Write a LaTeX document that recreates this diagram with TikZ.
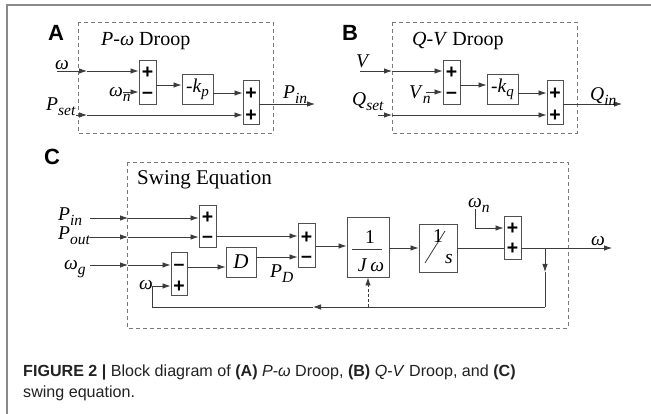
\documentclass[tikz,border=0pt]{standalone}
\usepackage{fontspec}
\setmainfont{Liberation Serif}
\newfontfamily\lsans{Liberation Sans}
\usetikzlibrary{arrows.meta}
\definecolor{linec}{HTML}{3C3C3C}
\definecolor{boxc}{HTML}{505050}
\definecolor{dashc}{HTML}{7A7A7A}
\definecolor{framec}{HTML}{8A8A8A}
\definecolor{capc}{HTML}{222222}
\newcommand\lab[2]{\textit{#1}\raisebox{-4.5pt}{\fontsize{15.5}{15.5}\selectfont\itshape #2}}
\tikzset{
  ln/.style={draw=linec, line width=0.8pt},
  arr/.style={ln, -{Latex[length=8pt,width=5.5pt]}},
  blk/.style={draw=boxc, line width=0.9pt, inner sep=0pt, fill=white},
  sumb/.style={blk, minimum width=17pt},
  sgn/.style={font=\lsans\bfseries\fontsize{19.5}{19.5}\selectfont, inner sep=0pt, text=black, yshift=-1pt},
  mns/.style={font=\lsans\bfseries\fontsize{19.5}{19.5}\selectfont, inner sep=0pt, text=black, yshift=-2.3pt},
  dbox/.style={draw=dashc, dash pattern=on 4pt off 3pt, line width=0.8pt},
  lbl/.style={font=\fontsize{19.5}{20}\selectfont, inner sep=0pt},
  ttl/.style={font=\fontsize{20}{22}\selectfont, inner sep=0pt},
  panel/.style={font=\lsans\bfseries\fontsize{22}{22}\selectfont, inner sep=0pt},
  captext/.style={font=\lsans\fontsize{16.1}{18}\selectfont, inner sep=0pt, text=capc},
}
\begin{document}
\begin{tikzpicture}[x=1pt,y=-1pt]
\useasboundingbox (0,0) rectangle (651,414);
\fill[white] (0,0) rectangle (651,414);
\draw[draw=framec, line width=1.2pt] (7,414) -- (7,5) -- (651,5);

% ---------------- Panel A ----------------
\node[panel] (pA) at (56,33) {A};
\draw[dbox] (78,22) rectangle (273,133);
\node[ttl, anchor=base west] (tA) at (101,46) {\textit{P}-\textit{ω} Droop};
\node[sumb, minimum height=44pt] (sA1) at (147.5,82) {};
\node[sgn] (sA1a) at (147.5,72) {+};
\node[mns] (sA1b) at (147.5,93) {–};
\node[blk, lbl, minimum width=31pt, minimum height=30pt] (kp) at (197.5,89) {-\textit{k}\raisebox{-4pt}{\fontsize{15}{15}\selectfont\itshape p}};
\node[sumb, minimum width=16pt, minimum height=44pt] (sA2) at (251,102) {};
\node[sgn] (sA2a) at (251,93) {+};
\node[sgn] (sA2b) at (251,115) {+};
\coordinate (wA0) at (57,71); \coordinate (wA1) at (87,71);
\draw[arr] (wA0) -- (wA1);
\draw[arr] (wA1) -- (sA1.west |- wA1);
\node[lbl, anchor=base west] (lwA) at (55,70) {\textit{ω}};
\coordinate (wnA) at (123,92);
\draw[arr] (wnA) -- (sA1.west |- wnA);
\node[lbl, anchor=base west] (lwnA) at (109,97) {\lab{ω}{n}};
\coordinate (yA85) at (0,85); \coordinate (yA93) at (0,93);
\draw[arr] (sA1.east |- yA85) -- (kp.west |- yA85);
\draw[arr] (kp.east |- yA93) -- (sA2.west |- yA93);
\coordinate (psA0) at (76,115); \coordinate (psA1) at (87,115);
\draw[arr] (psA0) -- (psA1);
\draw[arr] (psA1) -- (sA2.west |- psA1);
\node[lbl, anchor=base west] (lpsA) at (46,111) {\lab{P}{set}};
\coordinate (pinA) at (315,104);
\draw[arr] (sA2.east |- pinA) -- (pinA);
\node[lbl, anchor=base west] (lpinA) at (283,99) {\lab{P}{in}};

% ---------------- Panel B ----------------
\node[panel] (pB) at (350,33) {B};
\draw[dbox] (392,22) rectangle (577,133);
\node[ttl, anchor=base west] (tB) at (412,46) {\textit{Q}-\textit{V} Droop};
\node[sumb, minimum height=44pt] (sB1) at (451.5,82) {};
\node[sgn] (sB1a) at (451.5,72) {+};
\node[mns] (sB1b) at (451.5,93) {–};
\node[blk, lbl, minimum width=31pt, minimum height=30pt] (kq) at (502.5,89) {-\textit{k}\raisebox{-4pt}{\fontsize{15}{15}\selectfont\itshape q}};
\node[sumb, minimum width=16pt, minimum height=44pt] (sB2) at (555,102) {};
\node[sgn] (sB2a) at (555,93) {+};
\node[sgn] (sB2b) at (555,115) {+};
\coordinate (vB0) at (360,71); \coordinate (vB1) at (392,71);
\draw[arr] (vB0) -- (vB1);
\draw[arr] (vB1) -- (sB1.west |- vB1);
\node[lbl, anchor=base west] (lvB) at (356,68) {\textit{V}};
\coordinate (vnB) at (426,92);
\draw[arr] (vnB) -- (sB1.west |- vnB);
\node[lbl, anchor=base west] (lvnB) at (409,99) {\lab{V}{n}};
\coordinate (yB85) at (0,85); \coordinate (yB93) at (0,93);
\draw[arr] (sB1.east |- yB85) -- (kq.west |- yB85);
\draw[arr] (kq.east |- yB93) -- (sB2.west |- yB93);
\coordinate (qsB0) at (378,115); \coordinate (qsB1) at (392,115);
\draw[arr] (qsB0) -- (qsB1);
\draw[arr] (qsB1) -- (sB2.west |- qsB1);
\node[lbl, anchor=base west] (lqsB) at (352,106) {\lab{Q}{set}};
\coordinate (qinB) at (622,104);
\draw[arr] (sB2.east |- qinB) -- (qinB);
\node[lbl, anchor=base west] (lqinB) at (590,101) {\lab{Q}{in}};

% ---------------- Panel C ----------------
\node[panel] (pC) at (52,157) {C};
\draw[dbox] (127,162) rectangle (568,328);
\node[ttl, font=\fontsize{21}{22}\selectfont, anchor=base west] (tC) at (137,185) {Swing Equation};

\node[sumb, minimum height=42pt] (sC1) at (207.5,226) {};
\node[sgn] (sC1a) at (207.5,216.5) {+};
\node[mns] (sC1b) at (207.5,237.5) {–};
\node[sumb, minimum height=44pt] (sC2) at (306.5,245) {};
\node[sgn] (sC2a) at (306.5,237) {+};
\node[mns] (sC2b) at (306.5,257) {–};
\node[sumb, minimum width=16pt, minimum height=43pt] (sC3) at (179,273.5) {};
\node[mns] (sC3a) at (179,265) {–};
\node[sgn] (sC3b) at (179,286) {+};
\node[blk, lbl, font=\fontsize{21}{21}\selectfont\itshape, minimum width=30pt, minimum height=30pt] (D) at (241,262) {D};
\node[blk, minimum width=42pt, minimum height=60pt] (Jw) at (368,247) {};
\node[lbl] (Jw1) at (370,237) {1};
\draw[ln] (352,249) -- (382,249);
\node[lbl] (Jw2) at (371,265) {\textit{J}\,\textit{ω}};
\node[blk, minimum width=38pt, minimum height=48pt] (S) at (438,248) {};
\draw[ln] (425,263) -- (445,231);
\node[lbl] (S1) at (438,236) {1};
\node[lbl] (S2) at (449,259) {\textit{s}};
\node[sumb, minimum height=43pt] (sC4) at (512.5,237.5) {};
\node[sgn] (sC4a) at (512.5,228) {+};
\node[sgn] (sC4b) at (512.5,248) {+};

% inputs
\coordinate (pi0) at (90,218); \coordinate (pi1) at (128,218);
\draw[arr] (pi0) -- (pi1); \draw[arr] (pi1) -- (sC1.west |- pi1);
\node[lbl, anchor=base west] (lpiC) at (58,221) {\lab{P}{in}};
\coordinate (po0) at (90,237); \coordinate (po1) at (128,237);
\draw[arr] (po0) -- (po1); \draw[arr] (po1) -- (sC1.west |- po1);
\node[lbl, anchor=base west] (lpoC) at (58,240) {\lab{P}{out}};
\coordinate (wg0) at (90,265); \coordinate (wg1) at (128,265);
\draw[arr] (wg0) -- (wg1); \draw[arr] (wg1) -- (sC3.west |- wg1);
\node[lbl, anchor=base west] (lwgC) at (64,270) {\lab{ω}{g}};
\coordinate (wfb) at (152,286);
\draw[arr] (wfb) -- (sC3.west |- wfb);
\node[lbl, anchor=base west] (lwC) at (139,290) {\textit{ω}};

% internal connectors
\coordinate (y236) at (0,236); \coordinate (y267) at (0,267);
\coordinate (y257) at (0,257); \coordinate (y246) at (0,246);
\coordinate (y248) at (0,248);
\draw[arr] (sC1.east |- y236) -- (sC2.west |- y236);
\draw[arr] (sC3.east |- y267) -- (D.west |- y267);
\draw[arr] (D.east |- y257) -- (sC2.west |- y257);
\node[lbl, anchor=base west] (lpD) at (270,278) {\lab{P}{D}};
\draw[arr] (sC2.east |- y246) -- (Jw.west |- y246);
\draw[arr] (Jw.east |- y248) -- (S.west |- y248);
\draw[ln] (S.east |- y248) -- (sC4.west |- y248);
\coordinate (wn0) at (475,209); \coordinate (wn1) at (475,228);
\draw[arr] (wn0) -- (wn1) -- (sC4.west |- wn1);
\node[lbl, anchor=base west] (lwnC) at (468,208) {\lab{ω}{n}};
\coordinate (wout) at (612,248);
\draw[arr] (sC4.east |- y248) -- (wout);
\node[lbl, anchor=base west] (lwout) at (591,246) {\textit{ω}};

% feedback
\coordinate (br) at (545,248); \coordinate (brm) at (545,272);
\coordinate (bl) at (545,307); \coordinate (fbm) at (313,307);
\coordinate (fbl) at (152,307); \coordinate (dj) at (368,307);
\draw[arr] (br) -- (brm);
\draw[ln] (brm) -- (bl);
\draw[arr] (bl) -- (fbm);
\draw[ln] (fbm) -- (fbl) -- (wfb);
\draw[arr, dash pattern=on 3pt off 2pt] (dj) -- (Jw.south);

% caption
\node[captext, anchor=base west] (cap1) at (23,376) {{\bfseries FIGURE 2 |} Block diagram of {\bfseries (A)} \textit{P}-\textit{ω} Droop, {\bfseries (B)} \textit{Q}-\textit{V} Droop, and {\bfseries (C)}};
\node[captext, anchor=base west] (cap2) at (23,397) {swing equation.};
\end{tikzpicture}
\end{document}
